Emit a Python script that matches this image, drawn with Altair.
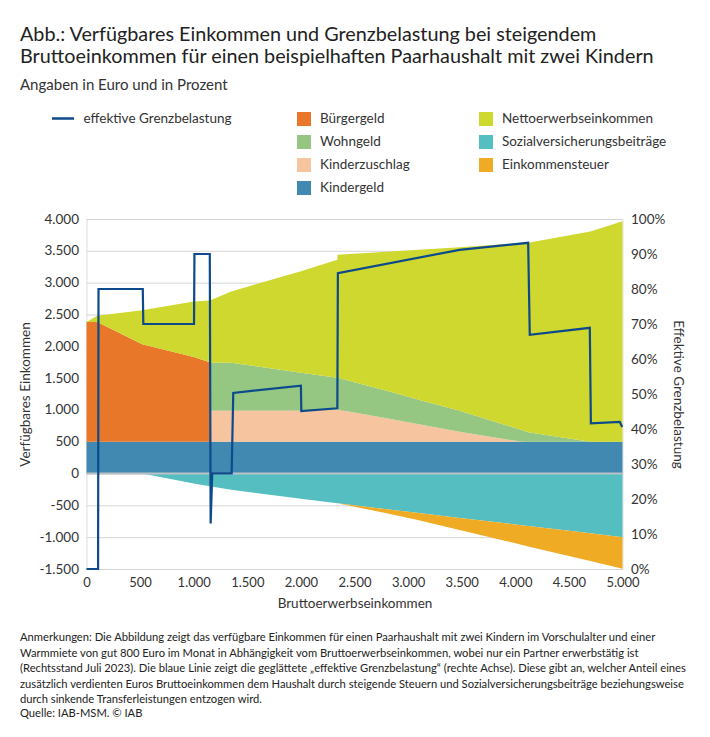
import altair as alt
import pandas as pd

# ---------------- data ----------------
gross = [0, 100, 520, 1000, 1150, 1151, 1350, 2000, 2340, 2341, 2800, 3100, 3480, 4000, 4075, 4120, 4700, 5000]
kindergeld = [500] * 18
buergergeld = [1880, 1880, 1530, 1330, 1250, 0, 0, 0, 0, 0, 0, 0, 0, 0, 0, 0, 0, 0]
kinderzuschlag = [0, 0, 0, 0, 0, 490, 490, 490, 505, 505, 370, 275, 157, 15, 0, 0, 0, 0]
wohngeld = [0, 0, 0, 0, 0, 752, 750, 595, 501, 501, 430, 385, 328, 200, 175, 150, 0, 0]
netto = [0, 100, 535, 875, 970, 978, 1122, 1593, 1854, 1934, 2187, 2358, 2572, 2900, 2948, 2978, 3302, 3465]
sozialvers = [0, 0, 0, -155, -200, -200, -255, -395, -468, -468, -560, -620, -697, -800, -815, -825, -940, -1000]
steuer = [0, 0, 0, 0, 0, 0, 0, 0, 0, 0, -65, -115, -190, -295, -310, -320, -435, -495]

gb_x = [0, 108, 112, 525, 530, 1003, 1007, 1150, 1158, 1173, 1354, 1369, 2000, 2004, 2340, 2345, 3480, 4120, 4135, 4695, 4705, 4975, 4997]
gb_y = [0, 0, 80, 80, 70, 70, 90, 90, 13, 27.3, 27.3, 50.3, 52.4, 45.1, 45.9, 84.5, 91.2, 93.2, 66.9, 68.9, 41.6, 42.0, 40.6]

x_ticks = [0, 500, 1000, 1500, 2000, 2500, 3000, 3500, 4000, 4500, 5000]
y_ticks = [-1500, -1000, -500, 0, 500, 1000, 1500, 2000, 2500, 3000, 3500, 4000]
p_ticks = [0, 0.1, 0.2, 0.3, 0.4, 0.5, 0.6, 0.7, 0.8, 0.9, 1.0]

col2_names = ["Bürgergeld", "Wohngeld", "Kinderzuschlag", "Kindergeld"]
col2_colors = ["#E8772A", "#95C783", "#F6C59F", "#4189B0"]
col3_names = ["Nettoerwerbseinkommen", "Sozialversicherungsbeiträge", "Einkommensteuer"]
col3_colors = ["#CFD82E", "#55BEC0", "#F0AB25"]
line_color = "#0C4A8B"

title_lines = ["Abb.: Verfügbares Einkommen und Grenzbelastung bei steigendem",
               "Bruttoeinkommen für einen beispielhaften Paarhaushalt mit zwei Kindern"]
subtitle = "Angaben in Euro und in Prozent"
notes = ("Anmerkungen: Die Abbildung zeigt das verfügbare Einkommen für einen Paarhaushalt mit zwei Kindern im Vorschulalter und einer\n"
         "Warmmiete von gut 800 Euro im Monat in Abhängigkeit vom Bruttoerwerbseinkommen, wobei nur ein Partner erwerbstätig ist\n"
         "(Rechtsstand Juli 2023). Die blaue Linie zeigt die geglättete „effektive Grenzbelastung“ (rechte Achse). Diese gibt an, welcher Anteil eines\n"
         "zusätzlich verdienten Euros Bruttoeinkommen dem Haushalt durch steigende Steuern und Sozialversicherungsbeiträge beziehungsweise\n"
         "durch sinkende Transferleistungen entzogen wird.")
source = "Quelle: IAB-MSM.  © IAB"

FONT = "Lato"
TXT = "#333333"

# ---------------- build stacked table ----------------
rows = []
def add(name, lo, hi):
    vals = [h - l for l, h in zip(lo, hi)]
    n = len(vals)
    for i in range(n):
        keep = vals[i] != 0 or (i > 0 and vals[i - 1] != 0) or (i < n - 1 and vals[i + 1] != 0)
        if keep:
            rows.append({"x": gross[i], "y0": lo[i], "y1": hi[i], "series": name})

cum = [0] * len(gross)
for name, vals in [("Kindergeld", kindergeld), ("Bürgergeld", buergergeld),
                   ("Kinderzuschlag", kinderzuschlag), ("Wohngeld", wohngeld),
                   ("Nettoerwerbseinkommen", netto)]:
    top = [c + v for c, v in zip(cum, vals)]
    add(name, cum, top)
    cum = top
sv_bottom = list(sozialvers)
add("Sozialversicherungsbeiträge", [0] * len(gross), sv_bottom)
tax_bottom = [s + t for s, t in zip(sv_bottom, steuer)]
add("Einkommensteuer", sv_bottom, tax_bottom)
df = pd.DataFrame(rows)

df2 = df[df.series.isin(col2_names)]
df3 = df[df.series.isin(col3_names)]

line_df = pd.DataFrame({"x": gb_x, "p": [v / 100 for v in gb_y],
                        "i": list(range(len(gb_x))),
                        "name": ["effektive Grenzbelastung"] * len(gb_x)})
grid_df = pd.DataFrame({"g": y_ticks})

# ---------------- encodings ----------------
AX = dict(domain=False, ticks=False, labelFont=FONT, labelColor=TXT,
          titleFont=FONT, titleFontSize=13.5, titleFontWeight="normal", titleColor=TXT,
          labelOverlap=False, labelFlush=False, grid=False)

x_enc = alt.X("x:Q", scale=alt.Scale(domain=[0, 5000], nice=False, zero=False),
              axis=alt.Axis(values=x_ticks, title="Bruttoerwerbseinkommen",
                            labelExpr="replace(format(datum.value, ','), ',', '.')",
                            labelFontSize=13, labelPadding=7, titlePadding=7, **AX))
y_scale = alt.Scale(domain=[-1500, 4000], nice=False, zero=False)
y_axis = alt.Axis(values=y_ticks, title="Verfügbares Einkommen",
                  labelExpr="(datum.value < 0 ? '-' : '') + replace(format(abs(datum.value), ','), ',', '.')",
                  labelFontSize=13.5, labelPadding=8, titlePadding=6, **AX)

leg_common = dict(title=None, orient="none", direction="vertical", symbolType="square",
                  symbolSize=196, symbolStrokeWidth=0, labelFont=FONT, labelFontSize=13.5,
                  labelColor=TXT, rowPadding=9, labelOffset=9, labelLimit=400)

grid = alt.Chart(grid_df).mark_rule(color="#d4d4d4", strokeWidth=1, yOffset=0.5).encode(
    y=alt.Y("g:Q", scale=y_scale, axis=y_axis))

area2 = alt.Chart(df2).mark_area(interpolate="linear").encode(
    x=x_enc,
    y=alt.Y("y1:Q", scale=y_scale, axis=y_axis),
    y2="y0:Q",
    fill=alt.Fill("series:N", scale=alt.Scale(domain=col2_names, range=col2_colors),
                  legend=alt.Legend(legendX=210.5, legendY=-107, **leg_common)),
)
area3 = alt.Chart(df3).mark_area(interpolate="linear").encode(
    x=x_enc,
    y=alt.Y("y1:Q", scale=y_scale, axis=y_axis),
    y2="y0:Q",
    color=alt.Color("series:N", scale=alt.Scale(domain=col3_names, range=col3_colors),
                    legend=alt.Legend(legendX=392.5, legendY=-107, **leg_common)),
)
zero = alt.Chart(pd.DataFrame({"g": [0]})).mark_rule(color="#bcc1c6", strokeWidth=2).encode(
    y=alt.Y("g:Q", scale=y_scale, axis=y_axis))

notes_txt = alt.Chart(pd.DataFrame({"t": [notes]})).mark_text(
    align="left", baseline="middle", lineBreak="\n", lineHeight=15.5,
    font=FONT, fontSize=11.2, color="#222222").encode(
    text="t:N", x=alt.value(-66.5), y=alt.value(419))
source_txt = alt.Chart(pd.DataFrame({"t": [source]})).mark_text(
    align="left", baseline="middle", font=FONT, fontSize=11.2, color="#222222").encode(
    text="t:N", x=alt.value(-66.5), y=alt.value(495))

base = alt.layer(grid, area2, area3, zero, notes_txt, source_txt)

line = alt.Chart(line_df).mark_line(strokeWidth=2.2, interpolate="linear").encode(
    x=x_enc,
    y=alt.Y("p:Q", scale=alt.Scale(domain=[0, 1], nice=False, zero=False),
            axis=alt.Axis(orient="right", values=p_ticks, format=".0%", title="Effektive Grenzbelastung",
                          labelFontSize=13.5, labelPadding=8, titlePadding=6, **AX)),
    stroke=alt.Stroke("name:N", scale=alt.Scale(range=[line_color]),
                      legend=alt.Legend(title=None, orient="none", legendX=-36, legendY=-113,
                                        symbolType="stroke", symbolSize=484, symbolStrokeWidth=2.5,
                                        labelFont=FONT, labelFontSize=13.5, labelColor=TXT, labelOffset=8,
                                        labelLimit=400)),
    order="i:Q",
)

chart = alt.layer(base, line).resolve_scale(y="independent").properties(
    width=536, height=350,
    autosize=alt.AutoSizeParams(type="none"),
    padding={"left": 78.5, "top": 211, "right": 79.5, "bottom": 160},
    title=alt.TitleParams(text=title_lines, subtitle=subtitle, anchor="start", frame="group",
                          dx=-66.5, font=FONT, fontSize=19.8, fontWeight="normal", color="#222222",
                          lineHeight=22, subtitleFont=FONT, subtitleFontSize=15,
                          subtitleColor=TXT, subtitlePadding=11.5, offset=13),
).configure_view(stroke=None).configure(background="white")

chart.save("out.html", embed_options={"renderer": "svg", "actions": False})
